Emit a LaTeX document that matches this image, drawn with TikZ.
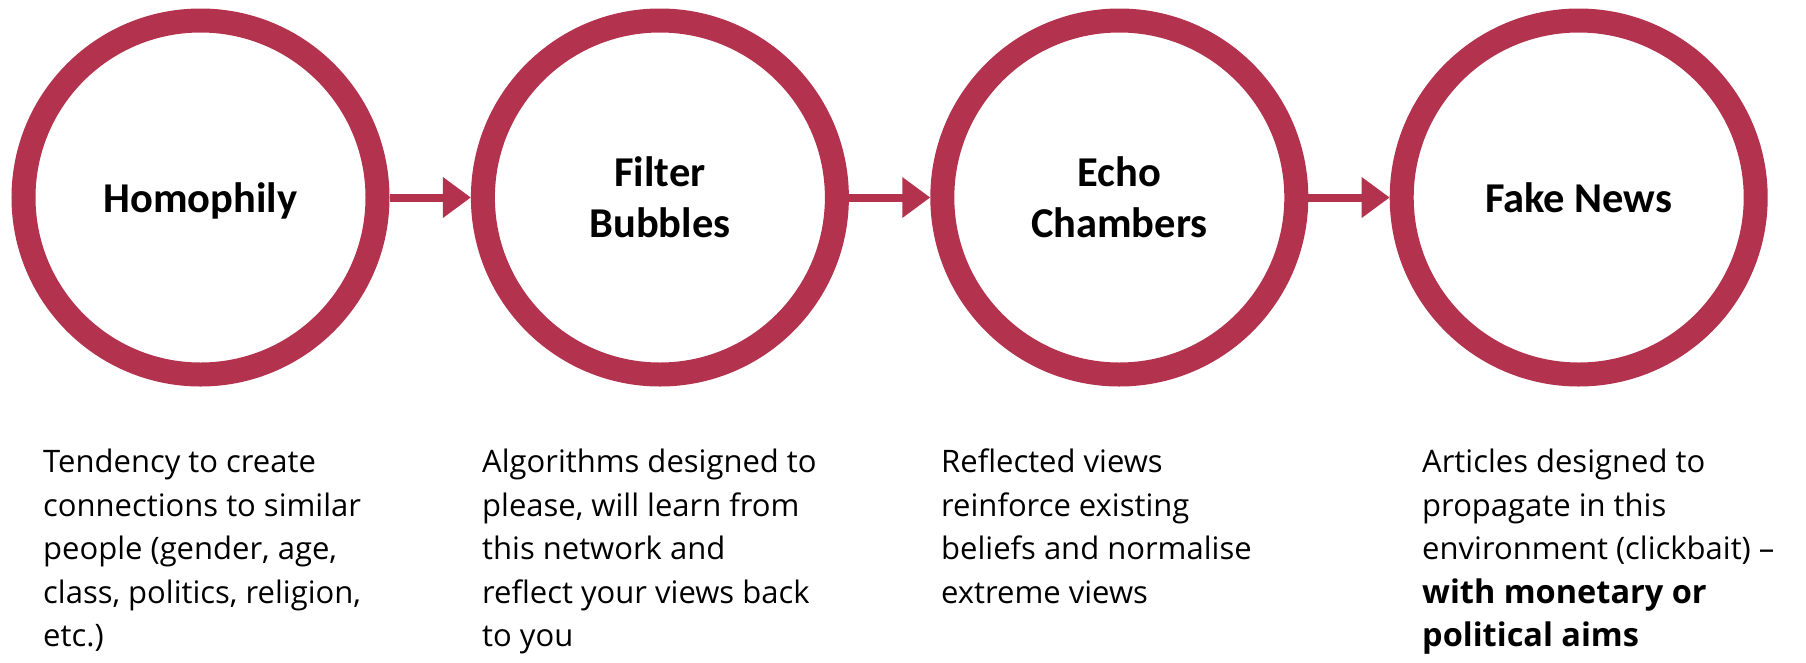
\documentclass[tikz,border=0pt]{standalone}
\usepackage{fontspec}
\setmainfont{Open Sans}
\newfontfamily\headfont{Carlito}
\usetikzlibrary{arrows.meta}
\definecolor{wine}{RGB}{179,50,77}

\begin{document}
\begin{tikzpicture}[x=1pt,y=-1pt,
  ring/.style={circle,draw=wine,line width=24pt,minimum size=354pt,inner sep=0pt,
    font=\headfont\bfseries\fontsize{42.5}{51}\selectfont,align=center,text depth=0pt},
  body/.style={font=\fontsize{31}{43.5}\selectfont,align=left,anchor=north west,inner sep=0pt},
  link/.style={wine,line width=8pt,-{Triangle[length=28pt,width=39pt]}}]
\useasboundingbox (0,0) rectangle (1806,662);
\def\d{459.4}

\node[ring] (homophily) at (200.5,197.5) {Homophily};
\node[ring] (filter) at (200.5+\d,197.5) {Filter\\Bubbles};
\node[ring] (echo) at (200.5+2*\d,197.5) {Echo\\Chambers};
\node[ring] (fake) at (200.5+3*\d,197.5) {Fake News};

\draw[link] (homophily) -- (filter);
\draw[link] (filter) -- (echo);
\draw[link] (echo) -- (fake);

\node[body] (t1) at (43,449) {Tendency to create\\connections to similar\\people (gender, age,\\class, politics, religion,\\etc.)};
\node[body] (t2) at (482,449) {Algorithms designed to\\please, will learn from\\this network and\\reflect your views back\\to you};
\node[body] (t3) at (941,449) {Reflected views\\reinforce existing\\beliefs and normalise\\extreme views};
\node[body] (t4) at (1422,449) {Articles designed to\\propagate in this\\environment (clickbait) --\\{\fontsize{32.5}{43.5}\selectfont\bfseries with monetary or}\\{\fontsize{32.5}{43.5}\selectfont\bfseries political aims}};
\end{tikzpicture}
\end{document}
